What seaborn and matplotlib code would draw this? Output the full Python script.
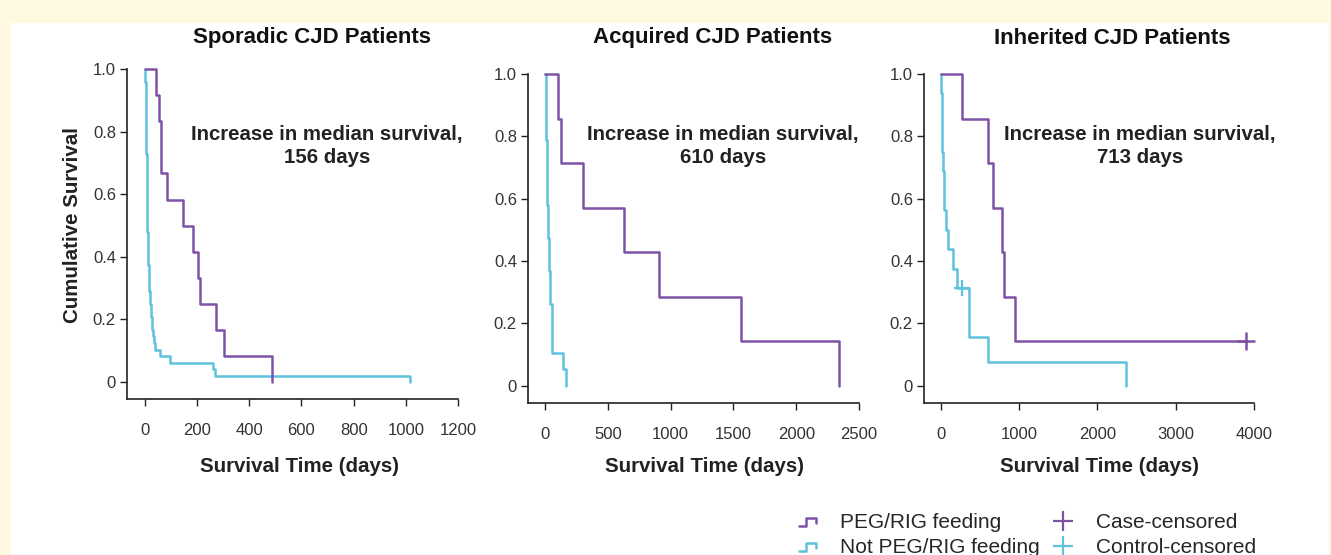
import matplotlib
matplotlib.use("Agg")
import matplotlib.pyplot as plt
import seaborn as sns
import pandas as pd
from matplotlib.lines import Line2D
from matplotlib.legend_handler import HandlerBase
from matplotlib.patches import Rectangle

# Kaplan-Meier step data (day, survival after event)
sporadic_peg_days = [0, 42, 54, 60, 62, 85, 145, 184, 203, 211, 271, 303, 487]
sporadic_peg_surv = [1.0, 0.917, 0.833, 0.75, 0.667, 0.583, 0.5, 0.417, 0.333, 0.25, 0.167, 0.083, 0.0]
sporadic_not_days = [0, 1, 2, 3, 4, 5, 6, 7, 8, 9, 10, 12, 14, 16, 19, 22, 26, 30, 34, 40, 58, 96, 262, 268, 1016]
sporadic_not_surv = [1.0, 0.958, 0.917, 0.854, 0.792, 0.729, 0.667, 0.604, 0.542, 0.479, 0.417, 0.375,
                     0.333, 0.292, 0.25, 0.208, 0.167, 0.146, 0.125, 0.104, 0.083, 0.0625, 0.042, 0.021, 0.0]

acquired_peg_days = [0, 101, 127, 305, 632, 908, 1558, 2341]
acquired_peg_surv = [1.0, 0.857, 0.714, 0.571, 0.429, 0.286, 0.143, 0.0]
acquired_not_days = [0, 5, 8, 10, 12, 14, 16, 18, 20, 23, 26, 29, 33, 37, 42, 58, 146, 165]
acquired_not_surv = [1.0, 0.947, 0.895, 0.842, 0.789, 0.737, 0.684, 0.632, 0.579, 0.526, 0.474,
                     0.421, 0.368, 0.316, 0.263, 0.105, 0.053, 0.0]

inherited_peg_days = [0, 272, 597, 669, 775, 805, 946, 3894]
inherited_peg_surv = [1.0, 0.857, 0.714, 0.571, 0.429, 0.286, 0.143, 0.143]
inherited_not_days = [0, 5, 10, 14, 17, 25, 35, 43, 60, 85, 149, 209, 353, 605, 2364]
inherited_not_surv = [1.0, 0.9375, 0.875, 0.8125, 0.75, 0.6875, 0.625, 0.5625, 0.5, 0.4375,
                      0.375, 0.3125, 0.156, 0.078, 0.0]

# censored observations
inherited_case_cens = ([3894], [0.143])
inherited_ctrl_cens = ([272], [0.3125])

titles = ["Sporadic CJD Patients", "Acquired CJD Patients", "Inherited CJD Patients"]
gains = [156, 610, 713]
xticks = [[0, 200, 400, 600, 800, 1000, 1200], [0, 500, 1000, 1500, 2000, 2500], [0, 1000, 2000, 3000, 4000]]
yticks = [0, 0.2, 0.4, 0.6, 0.8, 1.0]
ytick_labels = ["0", "0.2", "0.4", "0.6", "0.8", "1.0"]

PURPLE = "#7E52A6"
CYAN = "#5EC2DF"
CREAM = "#FFF8E0"
DARK = "#222222"

sns.set_theme(style="white")
plt.rcParams["font.family"] = ["Liberation Sans", "DejaVu Sans"]

fig = plt.figure(figsize=(13.31, 5.55), dpi=100)
W, H = 1331.0, 555.0

# cream frame like the journal page
fig.patches.append(Rectangle((0, 1 - 22 / H), 1, 22 / H, transform=fig.transFigure, color=CREAM, zorder=0))
fig.patches.append(Rectangle((0, 0), 9 / W, 1, transform=fig.transFigure, color=CREAM, zorder=0))
fig.patches.append(Rectangle((1 - 2 / W, 0), 2 / W, 1, transform=fig.transFigure, color=CREAM, zorder=0))

# axes boxes in pixels: left, bottom, right, top
boxes = [(127, 399, 458, 69), (528, 403, 859, 74), (924, 403, 1254, 74)]
xlims = [(-69, 1200), (-135, 2500), (-217, 4000)]
ylims = [(-0.054, 1.0), (-0.055, 1.0), (-0.055, 1.0)]
title_x = [312, 713, 1112]
note_x = [327, 723, 1140]
xlabel_x = [300, 705, 1099]

curves = [
    (sporadic_peg_days, sporadic_peg_surv, sporadic_not_days, sporadic_not_surv),
    (acquired_peg_days, acquired_peg_surv, acquired_not_days, acquired_not_surv),
    (inherited_peg_days, inherited_peg_surv, inherited_not_days, inherited_not_surv),
]

for i in range(3):
    l, b, r, t = boxes[i]
    ax = fig.add_axes([l / W, 1 - b / H, (r - l) / W, (b - t) / H])
    ax.set_facecolor("none")
    pd_, ps_, nd_, ns_ = curves[i]
    peg = pd.DataFrame({"day": pd_, "surv": ps_})
    notp = pd.DataFrame({"day": nd_, "surv": ns_})
    sns.lineplot(data=notp, x="day", y="surv", ax=ax, color=CYAN, lw=1.8,
                 drawstyle="steps-post", estimator=None, sort=False, clip_on=False)
    sns.lineplot(data=peg, x="day", y="surv", ax=ax, color=PURPLE, lw=1.8,
                 drawstyle="steps-post", estimator=None, sort=False, clip_on=False)
    if i == 2:
        ax.plot(inherited_case_cens[0], inherited_case_cens[1], ls="none", marker="+",
                ms=13, mew=1.8, color=PURPLE, clip_on=False)
        ax.plot(inherited_ctrl_cens[0], inherited_ctrl_cens[1], ls="none", marker="+",
                ms=11, mew=1.6, color=CYAN, clip_on=False)

    ax.set_xlim(*xlims[i])
    ax.set_ylim(*ylims[i])
    ax.set_xticks(xticks[i])
    ax.set_xticklabels([str(v) for v in xticks[i]])
    ax.set_yticks(yticks)
    ax.set_yticklabels(ytick_labels)
    ax.set_xlabel("")
    ax.set_ylabel("")
    for s in ["top", "right"]:
        ax.spines[s].set_visible(False)
    for s in ["left", "bottom"]:
        ax.spines[s].set_color(DARK)
        ax.spines[s].set_linewidth(1.2)
    ax.tick_params(axis="both", direction="out", length=5, width=1, color=DARK,
                   labelsize=12, labelcolor="#333333",
                   bottom=True, left=True)
    ax.tick_params(axis="y", pad=3)
    ax.tick_params(axis="x", pad=12)

    fig.text(title_x[i] / W, 1 - 38 / H, titles[i], ha="center", va="center",
             fontsize=16, fontweight="bold", color="#111111")
    fig.text(note_x[i] / W, 1 - 146 / H, f"Increase in median survival,\n{gains[i]} days",
             ha="center", va="center", fontsize=14.7, fontweight="bold", color="#222222",
             linespacing=1.25)
    fig.text(xlabel_x[i] / W, 1 - 466 / H, "Survival Time (days)", ha="center", va="center",
             fontsize=14.8, fontweight="bold", color="#222222")

fig.text(73 / W, 1 - 225 / H, "Cumulative Survival", ha="center", va="center", rotation=90,
         fontsize=14.8, fontweight="bold", color="#222222")


class StepHandler(HandlerBase):
    def create_artists(self, legend, orig_handle, xdescent, ydescent, width, height, fontsize, trans):
        lo, hi = 0.15 * height, 0.7 * height
        xs = [0, 0.4 * width, 0.4 * width, width, width]
        ys = [lo, lo, hi, hi, 0.35 * height]
        line = Line2D([x - xdescent for x in xs], [y - ydescent for y in ys],
                      color=orig_handle.get_color(), lw=1.8, transform=trans)
        return [line]


handles = [
    Line2D([], [], color=PURPLE),
    Line2D([], [], color=CYAN),
    Line2D([], [], color=PURPLE, ls="none", marker="+", ms=14, mew=1.6),
    Line2D([], [], color=CYAN, ls="none", marker="+", ms=14, mew=1.6),
]
labels = ["PEG/RIG feeding", "Not PEG/RIG feeding", "Case-censored", "Control-censored"]
step = StepHandler()
fig.legend(handles, labels, loc="upper left", bbox_to_anchor=(799 / W, 1 - 513 / H),
           ncol=2, frameon=False, fontsize=15, handlelength=0.8, handletextpad=1.15,
           columnspacing=0.75, labelspacing=0.3, borderpad=0, borderaxespad=0,
           handler_map={handles[0]: step, handles[1]: step})

fig.savefig("out.png", dpi=100, facecolor="white")
